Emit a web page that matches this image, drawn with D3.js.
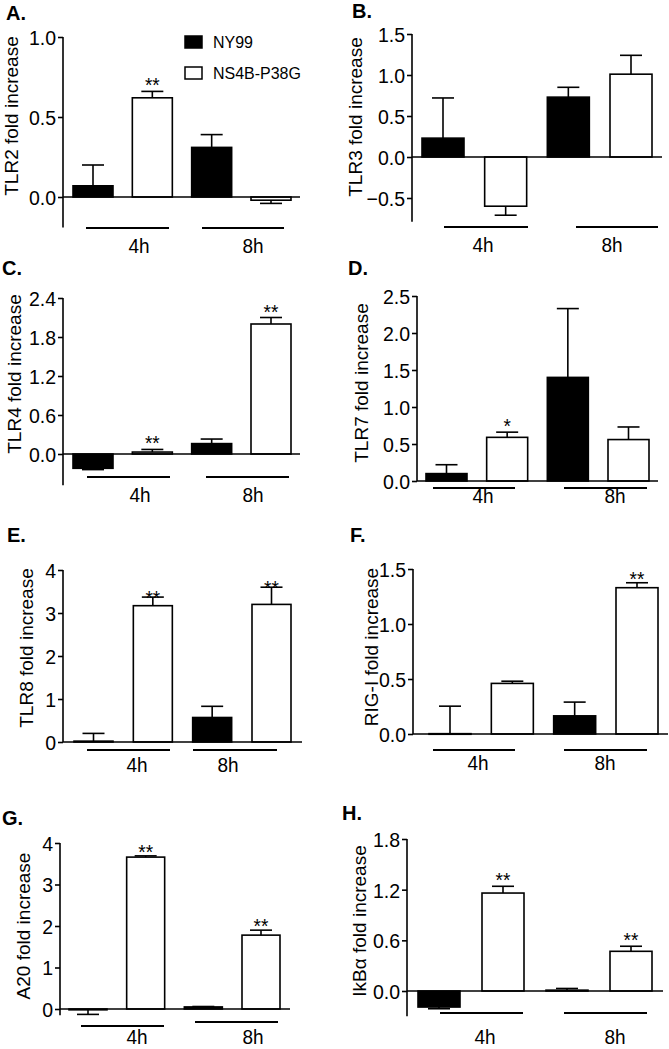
<!DOCTYPE html>
<html><head><meta charset="utf-8">
<script src="https://cdn.jsdelivr.net/npm/d3@7"></script>
<style>
body{margin:0;background:#fff}
svg{display:block}
text{font-family:"Liberation Sans",Arial,Helvetica,sans-serif;fill:#000}
</style>
</head><body>
<svg id="c" width="669" height="1049"></svg>
<script>
// ---------------- DATA ----------------
const groups = ["4h", "8h"];
const series = ["NY99", "NS4B-P38G"];
const letters = ["A.", "B.", "C.", "D.", "E.", "F.", "G.", "H."];
const genes = ["TLR2", "TLR3", "TLR4", "TLR7", "TLR8", "RIG-I", "A20", "IkBα"];
// each array order: NY99 4h, NS4B-P38G 4h, NY99 8h, NS4B-P38G 8h
const tlr2Mean = [0.07, 0.62, 0.31, -0.02];
const tlr2Err  = [0.13, 0.04, 0.08, 0.02];
const tlr3Mean = [0.23, -0.60, 0.73, 1.01];
const tlr3Err  = [0.49, 0.11, 0.12, 0.23];
const tlr4Mean = [-0.22, 0.03, 0.16, 2.00];
const tlr4Err  = [0.02, 0.04, 0.07, 0.10];
const tlr7Mean = [0.10, 0.59, 1.40, 0.56];
const tlr7Err  = [0.12, 0.07, 0.93, 0.17];
const tlr8Mean = [0.02, 3.17, 0.57, 3.20];
const tlr8Err  = [0.18, 0.20, 0.26, 0.40];
const rigiMean = [0.003, 0.46, 0.165, 1.33];
const rigiErr  = [0.25, 0.02, 0.125, 0.045];
const a20Mean  = [-0.02, 3.66, 0.05, 1.78];
const a20Err   = [0.11, 0.03, 0.01, 0.12];
const ikbaMean = [-0.19, 1.16, 0.01, 0.47];
const ikbaErr  = [0.02, 0.08, 0.02, 0.06];
const tlr2Stars = ["", "**", "", ""];
const tlr3Stars = ["", "", "", ""];
const tlr4Stars = ["", "**", "", "**"];
const tlr7Stars = ["", "*", "", ""];
const tlr8Stars = ["", "**", "", "**"];
const rigiStars = ["", "", "", "**"];
const a20Stars  = ["", "**", "", "**"];
const ikbaStars = ["", "**", "", "**"];
const tlr2Ticks = [0, 0.5, 1.0];
const tlr3Ticks = [-0.5, 0, 0.5, 1.0, 1.5];
const tlr4Ticks = [0, 0.6, 1.2, 1.8, 2.4];
const tlr7Ticks = [0, 0.5, 1.0, 1.5, 2.0, 2.5];
const tlr8Ticks = [0, 1, 2, 3, 4];
const rigiTicks = [0, 0.5, 1.0, 1.5];
const a20Ticks  = [0, 1, 2, 3, 4];
const ikbaTicks = [0, 0.6, 1.2, 1.8];
const axisMins  = [-0.19, -0.79, -0.48, 0, 0, 0, -0.15, -0.30];

const means = [tlr2Mean, tlr3Mean, tlr4Mean, tlr7Mean, tlr8Mean, rigiMean, a20Mean, ikbaMean];
const errs  = [tlr2Err, tlr3Err, tlr4Err, tlr7Err, tlr8Err, rigiErr, a20Err, ikbaErr];
const stars = [tlr2Stars, tlr3Stars, tlr4Stars, tlr7Stars, tlr8Stars, rigiStars, a20Stars, ikbaStars];
const ticks = [tlr2Ticks, tlr3Ticks, tlr4Ticks, tlr7Ticks, tlr8Ticks, rigiTicks, a20Ticks, ikbaTicks];
const fmts  = [".1f", ".1f", ".1f", ".1f", "d", ".1f", "d", ".1f"];

// ---------------- LAYOUT ----------------
const layout = [
  {ax:63,  xEnd:300, y0:197,  yTop:37,  first:73,  last:251, bw:40, lineY:[228,228],   lines:[[86,169],[202,284]],  labelX:[139,253], labelY:253,  letter:[6,20],   ylab:[18,116],  gap:7},
  {ax:412, xEnd:662, y0:157,  yTop:34,  first:422, last:610, bw:42, lineY:[227,227],   lines:[[444,528],[576,658]], labelX:[483,612], labelY:252,  letter:[352,18], ylab:[362,117], gap:7},
  {ax:63,  xEnd:300, y0:454,  yTop:298, first:73,  last:251, bw:40, lineY:[477,477],   lines:[[87,170],[206,289]],  labelX:[140,253], labelY:502,  letter:[2,275],  ylab:[21,374],  gap:7},
  {ax:417, xEnd:658, y0:481,  yTop:296, first:426, last:608, bw:41, lineY:[488,488],   lines:[[433,515],[564,647]], labelX:[483,615], labelY:503,  letter:[348,275],ylab:[368,383], gap:7},
  {ax:63,  xEnd:302, y0:742,  yTop:570, first:74,  last:252, bw:39, lineY:[750,750],   lines:[[87,170],[193,277]],  labelX:[137,228], labelY:772,  letter:[7,542],  ylab:[33,648],  gap:0},
  {ax:413, xEnd:668, y0:734,  yTop:569, first:429, last:616, bw:42, lineY:[750,750],   lines:[[433,515],[564,647]], labelX:[478,605], labelY:770,  letter:[350,542],ylab:[378,647], gap:5},
  {ax:60,  xEnd:290, y0:1009, yTop:843, first:69,  last:242, bw:38, lineY:[1026,1022], lines:[[81,164],[195,278]],  labelX:[137,253], labelY:1044, letter:[2,825],  ylab:[30,926],  gap:5},
  {ax:407, xEnd:663, y0:991,  yTop:839, first:418, last:610, bw:42, lineY:[1013,1013], lines:[[440,523],[564,647]], labelX:[485,615], labelY:1044, letter:[342,820],ylab:[366,921], gap:7}
];
const SY = 1.06; // slight vertical stretch of the original figure's text

const svg = d3.select("#c");

function stretchedText(g, x, y, str, size, anchor, weight) {
  return g.append("text")
    .attr("transform", `translate(${x},${y}) scale(1,${SY})`)
    .attr("text-anchor", anchor || "start")
    .attr("font-size", size)
    .attr("font-weight", weight || "normal")
    .text(str);
}

layout.forEach((L, i) => {
  const g = svg.append("g");
  const maxT = d3.max(ticks[i]);
  const y = d3.scaleLinear().domain([0, maxT]).range([L.y0, L.yTop]);
  const x = d3.scaleLinear().domain([0, 3]).range([L.first, L.last]);
  const mean = means[i], err = errs[i];
  const colors = ["#000", "#fff"];

  // bars
  const idx = d3.range(mean.length);
  g.selectAll("rect.bar").data(idx).enter().append("rect")
    .attr("x", d => x(d))
    .attr("width", L.bw)
    .attr("y", d => Math.min(y(mean[d]), y(0)))
    .attr("height", d => Math.max(Math.abs(y(mean[d]) - y(0)), 0.6))
    .attr("fill", d => colors[d % 2])
    .attr("stroke", "#000").attr("stroke-width", 1.6);

  // error bars (one-sided, away from zero)
  idx.forEach(d => {
    const m = mean[d], e = err[d];
    const end = m >= 0 ? m + e : m - e;
    const cx = x(d) + L.bw / 2;
    g.append("line").attr("x1", cx).attr("x2", cx).attr("y1", y(m)).attr("y2", y(end))
      .attr("stroke", "#000").attr("stroke-width", 1.6);
    g.append("line").attr("x1", cx - 11).attr("x2", cx + 11).attr("y1", y(end)).attr("y2", y(end))
      .attr("stroke", "#000").attr("stroke-width", 1.6);
    if (stars[i][d]) {
      stretchedText(g, cx, y(end) - L.gap + 8, stars[i][d], 19, "middle");
    }
  });

  // y axis
  const axis = d3.axisLeft(y).tickValues(ticks[i]).tickSize(5).tickSizeOuter(0)
    .tickPadding(2).tickFormat(d3.format(fmts[i]));
  const ag = g.append("g").attr("transform", `translate(${L.ax},0)`).call(axis);
  ag.select(".domain").remove();
  ag.selectAll(".tick line").attr("stroke", "#000").attr("stroke-width", 1.6);
  ag.selectAll(".tick text")
    .attr("font-size", 19.5)
    .attr("font-family", '"Liberation Sans",Arial,sans-serif')
    .attr("fill", "#000")
    .attr("transform", `scale(1,${SY})`)
    .attr("y", 0).attr("dy", "0.36em");
  g.append("line").attr("x1", L.ax).attr("x2", L.ax)
    .attr("y1", y(axisMins[i])).attr("y2", y(maxT))
    .attr("stroke", "#000").attr("stroke-width", 1.6);
  // zero line
  g.append("line").attr("x1", L.ax).attr("x2", L.xEnd).attr("y1", y(0)).attr("y2", y(0))
    .attr("stroke", "#000").attr("stroke-width", 1.6);

  // group lines & labels
  groups.forEach((grp, k) => {
    g.append("line").attr("x1", L.lines[k][0]).attr("x2", L.lines[k][1])
      .attr("y1", L.lineY[k]).attr("y2", L.lineY[k])
      .attr("stroke", "#000").attr("stroke-width", 1.8);
    stretchedText(g, L.labelX[k], L.labelY, grp, 19, "middle");
  });

  // y label
  g.append("text")
    .attr("transform", `translate(${L.ylab[0]},${L.ylab[1]}) rotate(-90)`)
    .attr("text-anchor", "middle").attr("font-size", 19)
    .text(genes[i] + " fold increase");

  // panel letter
  g.append("text").attr("x", L.letter[0]).attr("y", L.letter[1])
    .attr("font-size", 20).attr("font-weight", "bold")
    .text(letters[i]);
});

// legend (panel A)
const lg = svg.append("g");
const legendColors = ["#000", "#fff"];
series.forEach((s, k) => {
  lg.append("rect").attr("x", 185).attr("y", 36 + k * 31).attr("width", 17).attr("height", 12)
    .attr("fill", legendColors[k]).attr("stroke", "#000").attr("stroke-width", 1.5);
  stretchedText(lg, 213, 48 + k * 31, s, 16, "start");
});
</script>
</body></html>
